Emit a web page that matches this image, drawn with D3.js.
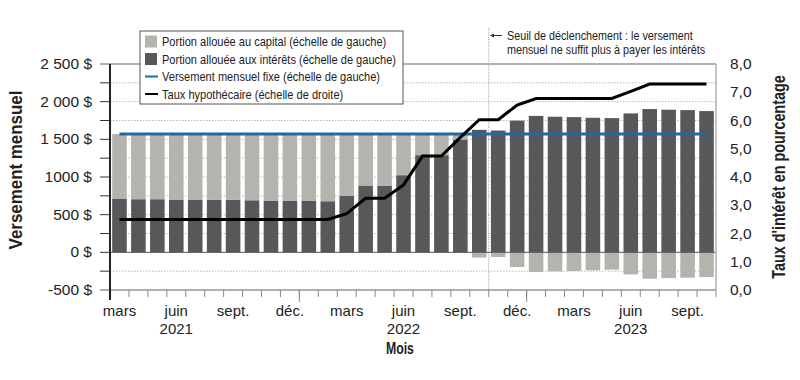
<!DOCTYPE html>
<html><head><meta charset="utf-8">
<script src="https://cdn.jsdelivr.net/npm/d3@7"></script>
<style>
body{margin:0;background:#fff;}
svg text{font-family:"Liberation Sans",Arial,sans-serif;fill:#222;}
</style></head>
<body><svg id="c" width="800" height="380"></svg>
<script>
const months = ["2021-03","2021-04","2021-05","2021-06","2021-07","2021-08","2021-09","2021-10","2021-11","2021-12",
"2022-01","2022-02","2022-03","2022-04","2022-05","2022-06","2022-07","2022-08","2022-09","2022-10","2022-11","2022-12",
"2023-01","2023-02","2023-03","2023-04","2023-05","2023-06","2023-07","2023-08","2023-09","2023-10"];
const interest = [714,705,705,701,701,696,696,691,687,682,682,678,749,887,887,1024,1290,1290,1498,1626,1617,1748,
1811,1800,1795,1786,1782,1844,1902,1893,1888,1875];
const capital = [856,865,865,869,869,874,874,879,883,888,888,892,821,683,683,546,280,280,72,-70,-62,-195,
-262,-253,-248,-239,-230,-293,-350,-342,-337,-328];
const fixedPayment = 1570;
const rate = [2.5,2.5,2.5,2.5,2.5,2.5,2.5,2.5,2.5,2.5,2.5,2.5,2.7,3.25,3.25,3.72,4.74,4.74,5.4,6.03,6.03,6.55,
6.78,6.78,6.78,6.78,6.78,7.03,7.29,7.29,7.29,7.29];
const leftTicks = [-500,0,500,1000,1500,2000,2500];
const leftTickLabels = ["-500 $","0 $","500 $","1000 $","1 500 $","2 000 $","2 500 $"];
const rightTicks = [0,1,2,3,4,5,6,7,8];
const rightTickLabels = ["0,0","1,0","2,0","3,0","4,0","5,0","6,0","7,0","8,0"];
const tickMonths = ["2021-03","2021-06","2021-09","2021-12","2022-03","2022-06","2022-09","2022-12","2023-03","2023-06","2023-09"];
const tickMonthLabels = ["mars","juin","sept.","déc.","mars","juin","sept.","déc.","mars","juin","sept."];
const yearMonths = ["2021-06","2022-06","2023-06"];
const yearLabels = ["2021","2022","2023"];
const yearBoundaries = ["2022-01","2023-01"];
const thresholdMonth = "2022-11";
const legendItems = ["Portion allouée au capital (échelle de gauche)","Portion allouée aux intérêts (échelle de gauche)",
"Versement mensuel fixe (échelle de gauche)","Taux hypothécaire (échelle de droite)"];
const annotation = ["Seuil de déclenchement : le versement","mensuel ne suffit plus à payer les intérêts"];

const C_CAP="#b4b3ae", C_INT="#58585a", C_BLUE="#1f69a4", C_GRID="#b8b8b8", C_FRAME="#b0b0b0";
const L=110, R=716, T=64, B=290;
const svg = d3.select("#c");
const x = d3.scaleBand().domain(months).range([L,R]).paddingInner(0.23).paddingOuter(0.115);
const y = d3.scaleLinear().domain([-500,2500]).range([B,T]);
const yr = d3.scaleLinear().domain([0,8]).range([B,T]);
const cx = m => x(m)+x.bandwidth()/2;
const squeeze = (sel, k) => sel.each(function(){
  const w = this.getComputedTextLength();
  d3.select(this).attr("textLength", w*k).attr("lengthAdjust","spacingAndGlyphs");
});

// grid (every 250)
const gridVals = d3.range(-250,2500,250).filter(v=>v!==0);
svg.append("g").selectAll("line").data(gridVals).join("line")
 .attr("x1",L).attr("x2",R).attr("y1",d=>y(d)).attr("y2",d=>y(d))
 .attr("stroke",C_GRID).attr("stroke-width",1).attr("stroke-dasharray","1.5,1.5");

// threshold line
const tx = x(thresholdMonth) - x.step()*x.paddingInner()/2;
svg.append("line").attr("x1",tx).attr("x2",tx).attr("y1",28).attr("y2",B)
 .attr("stroke","#999").attr("stroke-dasharray","1,1.2").attr("stroke-width",1);

// bars
const gb = svg.append("g");
months.forEach((m,i)=>{
  gb.append("rect").attr("x",x(m)).attr("width",x.bandwidth())
    .attr("y",y(interest[i])).attr("height",y(0)-y(interest[i])).attr("fill",C_INT);
  if(capital[i]>=0){
    gb.append("rect").attr("x",x(m)).attr("width",x.bandwidth())
      .attr("y",y(interest[i]+capital[i])).attr("height",y(interest[i])-y(interest[i]+capital[i])).attr("fill",C_CAP);
  } else {
    gb.append("rect").attr("x",x(m)).attr("width",x.bandwidth())
      .attr("y",y(0)).attr("height",y(capital[i])-y(0)).attr("fill",C_CAP);
  }
});
// zero line
svg.append("line").attr("x1",L).attr("x2",R).attr("y1",y(0)).attr("y2",y(0)).attr("stroke","#555").attr("stroke-width",1);

// frame
svg.append("line").attr("x1",100).attr("x2",R).attr("y1",T).attr("y2",T).attr("stroke",C_FRAME).attr("stroke-width",2);
svg.append("line").attr("x1",100).attr("x2",R).attr("y1",B).attr("y2",B).attr("stroke",C_FRAME).attr("stroke-width",2);
svg.append("line").attr("x1",R).attr("x2",R).attr("y1",T).attr("y2",B+7).attr("stroke",C_FRAME).attr("stroke-width",1.5);

// left axis
const ga = svg.append("g");
ga.selectAll("line.t").data(d3.range(-250,2500,250)).join("line")
 .attr("x1",100).attr("x2",L).attr("y1",d=>y(d)).attr("y2",d=>y(d)).attr("stroke","#333").attr("stroke-width",1);
ga.append("line").attr("x1",L).attr("x2",L).attr("y1",T).attr("y2",B+10).attr("stroke","#222").attr("stroke-width",2);
ga.selectAll("text").data(leftTicks).join("text")
 .attr("x",92).attr("y",d=>y(d)+5).attr("text-anchor","end").attr("font-size",15.5).text((d,i)=>leftTickLabels[i]);

// right axis labels
svg.append("g").selectAll("text").data(rightTicks).join("text")
 .attr("x",730).attr("y",d=>yr(d)+5).attr("text-anchor","start").attr("font-size",15.5).text((d,i)=>rightTickLabels[i]);

// x ticks
const bounds = months.slice(1).map(m=>x(m)-x.step()*x.paddingInner()/2);
svg.append("g").selectAll("line").data(bounds).join("line")
 .attr("x1",d=>d).attr("x2",d=>d).attr("y1",B).attr("y2",B+7).attr("stroke","#888").attr("stroke-width",1);
svg.append("g").selectAll("line").data(yearBoundaries).join("line")
 .attr("x1",d=>x(d)-x.step()*x.paddingInner()/2).attr("x2",d=>x(d)-x.step()*x.paddingInner()/2)
 .attr("y1",B).attr("y2",B+12).attr("stroke","#888").attr("stroke-width",1);
svg.append("g").selectAll("text").data(tickMonths).join("text")
 .attr("x",d=>cx(d)).attr("y",316).attr("text-anchor","middle").attr("font-size",15).text((d,i)=>tickMonthLabels[i]);
svg.append("g").selectAll("text").data(yearMonths).join("text")
 .attr("x",d=>cx(d)).attr("y",333.5).attr("text-anchor","middle").attr("font-size",15).text((d,i)=>yearLabels[i]);

// lines
svg.append("line").attr("x1",cx(months[0])).attr("x2",cx(months[months.length-1]))
 .attr("y1",y(fixedPayment)).attr("y2",y(fixedPayment)).attr("stroke",C_BLUE).attr("stroke-width",3);
svg.append("path").datum(rate).attr("fill","none").attr("stroke","#000").attr("stroke-width",3)
 .attr("d",d3.line().x((d,i)=>cx(months[i])).y(d=>yr(d)));

// titles
svg.append("text").attr("transform","translate(22,170) rotate(-90)").attr("text-anchor","middle")
 .attr("font-size",19).attr("font-weight","bold").text("Versement mensuel").call(squeeze,0.89);
svg.append("text").attr("transform","translate(785,177) rotate(-90)").attr("text-anchor","middle")
 .attr("font-size",17.5).attr("font-weight","bold").text("Taux d'intérêt en pourcentage").call(squeeze,0.82);
svg.append("text").attr("transform","translate(400,353.5) scale(0.72,1)").attr("text-anchor","middle")
 .attr("font-size",17).attr("font-weight","bold").text("Mois");

// legend
const lg = svg.append("g");
lg.append("rect").attr("x",140).attr("y",31).attr("width",263).attr("height",73).attr("fill","#fff").attr("stroke","#555").attr("stroke-width",1);
const rowY = [41.5,59,76.5,94];
lg.append("rect").attr("x",145).attr("y",rowY[0]-6).attr("width",12).attr("height",12).attr("fill",C_CAP);
lg.append("rect").attr("x",145).attr("y",rowY[1]-6).attr("width",12).attr("height",12).attr("fill",C_INT);
lg.append("line").attr("x1",145).attr("x2",158).attr("y1",rowY[2]).attr("y2",rowY[2]).attr("stroke",C_BLUE).attr("stroke-width",2);
lg.append("line").attr("x1",145).attr("x2",158).attr("y1",rowY[3]).attr("y2",rowY[3]).attr("stroke","#000").attr("stroke-width",2);
lg.selectAll("text").data(legendItems).join("text").attr("x",162).attr("y",(d,i)=>rowY[i]+4.5)
 .attr("font-size",13).text(d=>d).call(squeeze,0.85);

// annotation
svg.append("line").attr("x1",502).attr("x2",492).attr("y1",35.5).attr("y2",35.5).attr("stroke","#333").attr("stroke-width",1);
svg.append("path").attr("d","M490,35.5 L494,33.5 L494,37.5 Z").attr("fill","#333");
svg.append("g").attr("transform","translate(507,0) scale(0.83,1)")
 .selectAll("text").data(annotation).join("text")
 .attr("x",0).attr("y",(d,i)=>40.5+i*14).attr("font-size",13).text(d=>d);
</script></body></html>
